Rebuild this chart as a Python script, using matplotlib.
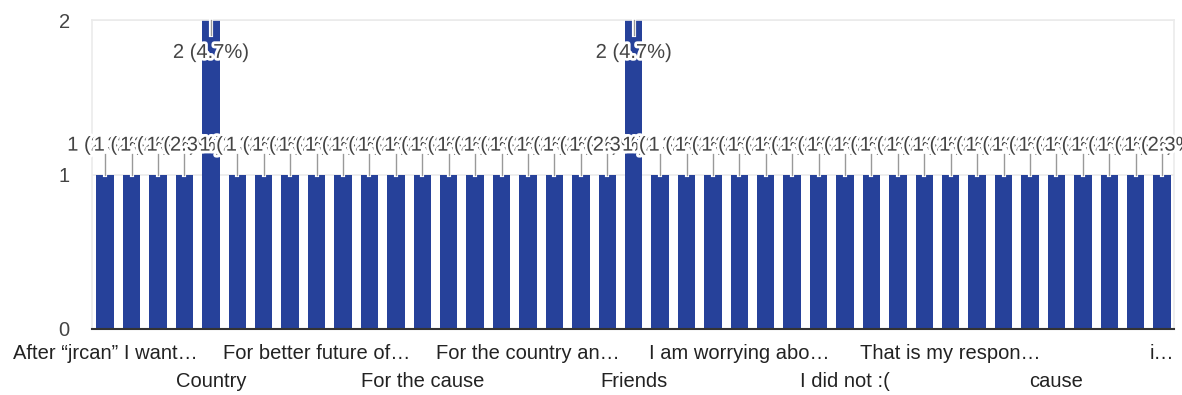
import numpy as np
import matplotlib.pyplot as plt
import matplotlib.patheffects as pe

# ответы (по алфавиту) и число ответивших
categories = [
    'After “jrcan” I want…', 'Because I care', 'Because of my family', 'Change',
    'Country', 'Duty', 'Family', 'For a better life',
    'For better future of…', 'For my children', 'For my future', 'For peace',
    'For the cause', 'For the children', 'For the community', 'For the country',
    'For the country an…', 'For the future', 'Freedom', 'Friend',
    'Friends', 'Hope', 'I am a citizen', 'I am hopeful',
    'I am worrying abo…', 'I believe in change', 'I care', 'I did it',
    'I did not :(', 'I like it', 'It is important', 'Peace',
    'That is my respon…', 'The future', 'To help', 'Why not',
    'cause', 'change', 'duty', 'future',
    'i…',
]
values = [1, 1, 1, 1, 2, 1, 1, 1, 1, 1, 1, 1, 1, 1, 1, 1, 1, 1, 1, 1,
          2, 1, 1, 1, 1, 1, 1, 1, 1, 1, 1, 1, 1, 1, 1, 1, 1, 1, 1, 1, 1]
yticks = [0, 1, 2]

plt.rcParams['font.family'] = ['Liberation Sans', 'DejaVu Sans']

x = np.arange(len(values))
total = sum(values)

fig = plt.figure(figsize=(11.82, 3.95), dpi=100)
W, H = 1182, 395
ax = fig.add_axes([92 / W, 1 - 329 / H, (1174 - 92) / W, (329 - 20) / H])

ax.bar(x, values, width=0.66, color='#26419a', zorder=2)
ax.set_xlim(-0.5, len(values) - 0.55)
ax.set_ylim(0, 2)

# сетка и рамка
for yv in yticks[1:]:
    ax.axhline(yv, color='#ebebeb', lw=1.2, zorder=1)
for s in ['left', 'right', 'top']:
    ax.spines[s].set_color('#ebebeb')
    ax.spines[s].set_linewidth(1.2)
ax.spines['bottom'].set_color('#333333')
ax.spines['bottom'].set_linewidth(1.5)
ax.spines['bottom'].set_zorder(5)

ax.set_yticks(yticks)
ax.tick_params(axis='y', length=0, pad=16, labelsize=14.5, labelcolor='#444444')

# подписи категорий в два ряда
row1 = x[::8]
row2 = x[4::8]
ax.set_xticks(row1)
ax.set_xticklabels([categories[i] for i in row1])
ax.set_xticks(row2, minor=True)
ax.set_xticklabels([categories[i] for i in row2], minor=True)
ax.tick_params(axis='x', which='major', length=0, pad=11, labelsize=14.5, labelcolor='#222222')
ax.tick_params(axis='x', which='minor', length=0, pad=31, labelsize=14.5, labelcolor='#222222')

# аннотации: значение и доля
halo = [pe.withStroke(linewidth=4, foreground='white')]
for i, v in zip(x, values):
    txt = f'{v} ({v / total * 100:.1f}%)'
    if v < 2:
        ty, s0, s1 = v + 0.19, v, v + 0.13
    else:
        ty, s0, s1 = v - 0.21, v, v - 0.10
    ax.plot([i, i], [s0, s1], color='#999999', lw=1, zorder=10 + 2 * i,
            path_effects=[pe.withStroke(linewidth=3, foreground='white')], clip_on=False)
    ax.text(i, ty, txt, ha='center', va='center', fontsize=14.5, color='#444444',
            zorder=11 + 2 * i, path_effects=halo, clip_on=False)

fig.savefig('out.png', dpi=100)
